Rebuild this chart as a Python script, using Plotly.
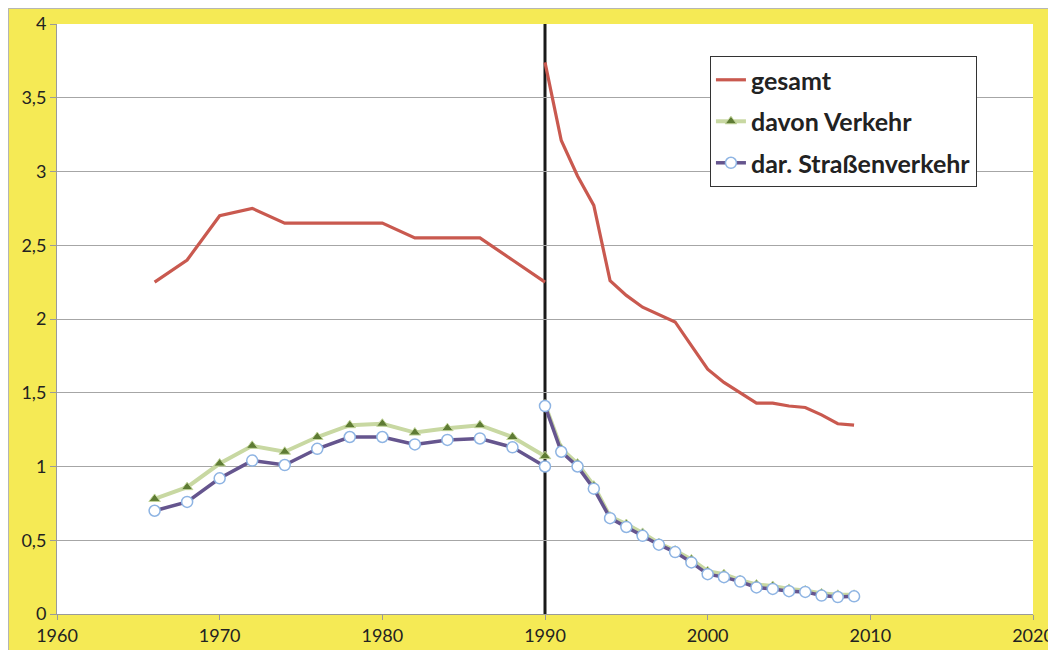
import plotly.graph_objects as go

# Jahre bis zur Wiedervereinigung (alte Länder) und ab 1990 (Deutschland)
years_west = [1966, 1968, 1970, 1972, 1974, 1976, 1978, 1980, 1982, 1984, 1986, 1988, 1990]
years_all = [1990, 1991, 1992, 1993, 1994, 1995, 1996, 1997, 1998, 1999,
             2000, 2001, 2002, 2003, 2004, 2005, 2006, 2007, 2008, 2009]

gesamt_west = [2.25, 2.40, 2.70, 2.75, 2.65, 2.65, 2.65, 2.65, 2.55, 2.55, 2.55, 2.40, 2.25]
gesamt_all = [3.74, 3.21, 2.97, 2.77, 2.26, 2.16, 2.08, 2.03, 1.98, 1.82,
              1.66, 1.57, 1.50, 1.43, 1.43, 1.41, 1.40, 1.35, 1.29, 1.28]

verkehr_west = [0.78, 0.86, 1.02, 1.14, 1.10, 1.20, 1.28, 1.29, 1.23, 1.26, 1.28, 1.20, 1.07]
verkehr_all = [1.42, 1.12, 1.02, 0.87, 0.66, 0.61, 0.55, 0.48, 0.43, 0.37,
               0.29, 0.27, 0.23, 0.20, 0.19, 0.17, 0.16, 0.14, 0.13, 0.13]

strasse_west = [0.70, 0.76, 0.92, 1.04, 1.01, 1.12, 1.20, 1.20, 1.15, 1.18, 1.19, 1.13, 1.00]
strasse_all = [1.41, 1.10, 1.00, 0.85, 0.65, 0.59, 0.53, 0.47, 0.42, 0.35,
               0.27, 0.25, 0.22, 0.18, 0.17, 0.155, 0.15, 0.125, 0.115, 0.12]

names = ["gesamt", "davon Verkehr", "dar. Straßenverkehr"]

FONT = "Lato, 'Open Sans', sans-serif"
YELLOW = "#F5EA55"


def joined(a, b):
    # Lücke zwischen den beiden Zeitreihen
    return a + [None] + b


x = joined(years_west, years_all)

fig = go.Figure()

fig.add_trace(go.Scatter(
    x=x, y=joined(gesamt_west, gesamt_all), name=names[0], mode="lines",
    line=dict(color="#C9594F", width=3.2), legendgroup="a",
))
fig.add_trace(go.Scatter(
    x=x, y=joined(verkehr_west, verkehr_all), name=names[1], mode="lines+markers",
    line=dict(color="#C8D8A2", width=4),
    marker=dict(symbol="triangle-up", size=10, color="#5E7B34",
                line=dict(color="#C3D69B", width=1)),
    legendgroup="b",
))
fig.add_trace(go.Scatter(
    x=x, y=joined(strasse_west, strasse_all), name=names[2], mode="lines+markers",
    line=dict(color="#65558E", width=3.5),
    marker=dict(symbol="circle", size=11, color="white",
                line=dict(color="#8EB4E3", width=1.5)),
    legendgroup="c",
))

# grauer Rahmen um die Grafik
fig.add_shape(type="rect", xref="paper", yref="paper",
              x0=-0.0497, x1=1.05, y0=-0.1, y1=1.0263,
              fillcolor="rgba(0,0,0,0)", line=dict(color="#B5B5B5", width=1))
# Trennlinie 1990
fig.add_shape(type="line", xref="x", yref="paper", x0=1990, x1=1990, y0=0, y1=1,
              line=dict(color="#1A1A1A", width=3), layer="below")

# die Seite hat 8px Rand, daher etwas kleiner
fig.update_layout(
    width=1048, height=642,
    margin=dict(l=49, r=23, t=16, b=36),
    paper_bgcolor=YELLOW, plot_bgcolor="white",
    separators=",.",
    font=dict(family=FONT, size=18, color="#222222"),
    showlegend=True,
    legend=dict(
        x=0.669, y=0.9457, xanchor="left", yanchor="top",
        bgcolor="white", bordercolor="#333333", borderwidth=1,
        font=dict(family=FONT, size=25, color="#222222", weight="bold"),
        traceorder="grouped", tracegroupgap=6, itemwidth=30,
    ),
)
fig.update_xaxes(
    range=[1960, 2020], tick0=1960, dtick=10, showgrid=False,
    showline=True, linecolor="#9A9A9A", linewidth=1,
    ticks="outside", ticklen=5, tickcolor="#9A9A9A",
    zeroline=False, automargin=False,
)
fig.update_yaxes(
    range=[0, 4], tick0=0, dtick=0.5, showgrid=True, gridcolor="#A6A6A6", gridwidth=1,
    showline=True, linecolor="#9A9A9A", linewidth=1,
    ticks="outside", ticklen=6, tickcolor="#9A9A9A",
    zeroline=False, automargin=False,
)

fig.write_html("out.html")
